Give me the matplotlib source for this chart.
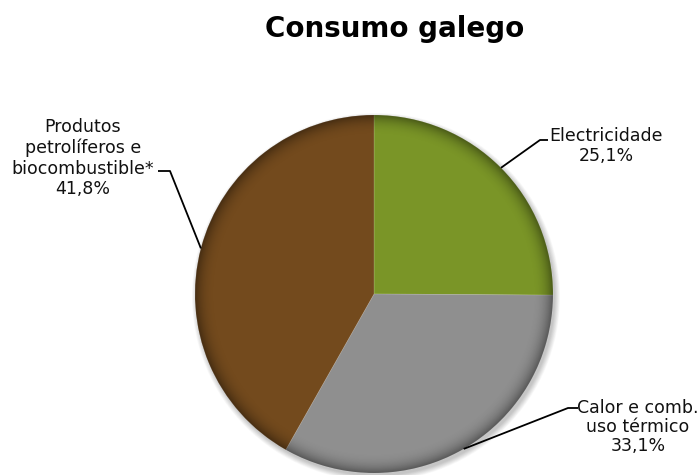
import numpy as np
import matplotlib
matplotlib.use("Agg")
import matplotlib.pyplot as plt
from matplotlib.patches import Circle

# Energy consumption shares
categories = ["Electricidade", "Calor e comb.\nuso térmico", "Produtos\npetrolíferos e\nbiocombustible*"]
shares = [25.1, 33.1, 41.8]
colors = ["#7a9527", "#8f8f8f", "#734a1d"]
title = "Consumo galego"

W, H = 700, 475
fig = plt.figure(figsize=(W / 100, H / 100), dpi=100)
ax = fig.add_axes([0, 0, 1, 1])

cx, cy, R = 374, H - 294, 179

# soft drop shadow
for i in range(10):
    ax.add_patch(Circle((cx + 2, cy - 3), R + 5 - i * 0.6, color="#000000",
                        alpha=0.025, lw=0, zorder=1))

wedges, _ = ax.pie(shares, colors=colors, startangle=90, counterclock=False,
                   center=(cx, cy), radius=R, frame=True,
                   wedgeprops=dict(linewidth=0.5, edgecolor=(1, 1, 1, 0.2)))
for w in wedges:
    w.set_zorder(2)
ax.set_xlim(0, W)
ax.set_ylim(0, H)
ax.set_aspect("equal")
ax.axis("off")

# darker rim shading inside the disc
n = 600
xs = np.linspace(cx - R, cx + R, n)
ys = np.linspace(cy - R, cy + R, n)
X, Y = np.meshgrid(xs, ys)
r = np.hypot(X - cx, Y - cy) / R
t = np.clip((r - 0.88) / 0.12, 0, 1)
alpha = 0.38 * t ** 2.5
rgba = np.zeros((n, n, 4))
rgba[..., 3] = alpha
im = ax.imshow(rgba, extent=(cx - R, cx + R, cy - R, cy + R), origin="lower",
               zorder=3, interpolation="bilinear")
clip = Circle((cx, cy), R, transform=ax.transData)
im.set_clip_path(clip)

# leader lines and labels
label_font = dict(fontsize=12.5, color="#111111", family="DejaVu Sans")
label_specs = [
    # (elbow point, horizontal end, text centre, line spacing)
    ((540, 140), (548, 140), (606, 146), 1.15),
    ((568, 408), (578, 408), (638, 427), 1.08),
    ((170, 171), (158, 171), (83, 158), 1.2),
]
angle = 90.0
for name, val, (elbow, hend, tpos, ls) in zip(categories, shares, label_specs):
    sweep = val / 100 * 360
    mid = np.deg2rad(angle - sweep / 2)
    angle -= sweep
    px, py = cx + R * np.cos(mid), cy + R * np.sin(mid)
    ex, ey = elbow[0], H - elbow[1]
    hx, hy = hend[0], H - hend[1]
    ax.plot([px, ex, hx], [py, ey, hy], color="black", lw=1.3, zorder=4,
            solid_capstyle="butt")
    pct = f"{val:.1f}".replace(".", ",")
    ax.text(tpos[0], H - tpos[1], f"{name}\n{pct}%", ha="center", va="center",
            linespacing=ls, zorder=5, **label_font)

fig.text(395 / W, 1 - 29 / H, title, ha="center", va="center",
         fontsize=20, fontweight="bold", family="DejaVu Sans")

fig.savefig("out.png", dpi=100)
